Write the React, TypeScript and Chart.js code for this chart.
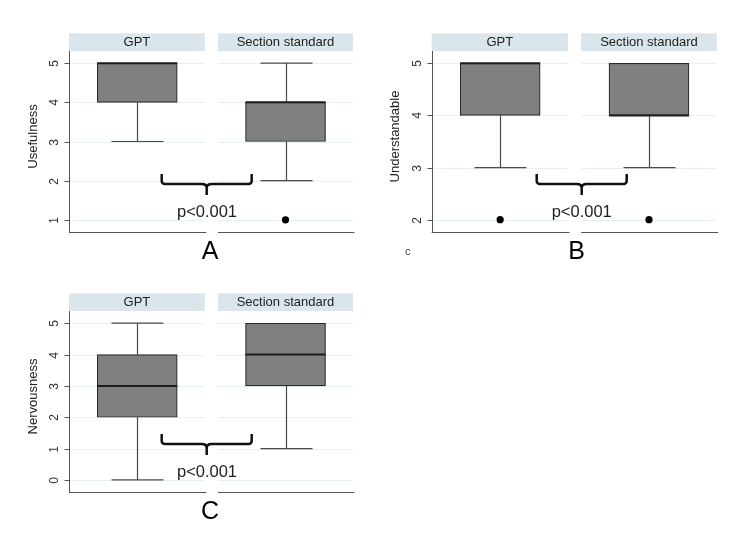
import React, { useEffect, useRef } from "react";
import { Chart, registerables } from "chart.js";

Chart.register(...registerables);

// ---------- data ----------
const groups = ["GPT", "Section standard"];
const pLabel = "p<0.001";

// Panel A – Usefulness
const usefulnessQ1 = [4, 3];
const usefulnessMedian = [5, 4];
const usefulnessQ3 = [5, 4];
const usefulnessLow = [3, 2];
const usefulnessHigh = [5, 5];
const usefulnessOutliers = [[], [1]];
const usefulnessTicks = [1, 2, 3, 4, 5];

// Panel B – Understandable
const understandableQ1 = [4, 4];
const understandableMedian = [5, 4];
const understandableQ3 = [5, 5];
const understandableLow = [3, 3];
const understandableHigh = [5, 5];
const understandableOutliers = [[2], [2]];
const understandableTicks = [2, 3, 4, 5];

// Panel C – Nervousness
const nervousnessQ1 = [2, 3];
const nervousnessMedian = [3, 4];
const nervousnessQ3 = [4, 5];
const nervousnessLow = [0, 1];
const nervousnessHigh = [5, 5];
const nervousnessOutliers = [[], []];
const nervousnessTicks = [0, 1, 2, 3, 4, 5];

// ---------- layout / style ----------
const FONT = '"Liberation Sans", Arial, Helvetica, sans-serif';
const X_MIN = -0.46;
const X_MAX = 1.455;
const FACET_HALF = 0.456;
const STRIP_COLOR = "#dbe5ec";
const GRID_COLOR = "#e7eff1";
const AXIS_COLOR = "#555555";
const BOX_FILL = "#808080";
const BOX_EDGE = "#2a2a2a";
const WHISKER = "#4a4a4a";

const panels = [
  {
    key: "A",
    label: "Usefulness",
    letter: "A",
    q1: usefulnessQ1, median: usefulnessMedian, q3: usefulnessQ3,
    low: usefulnessLow, high: usefulnessHigh, outliers: usefulnessOutliers,
    ticks: usefulnessTicks, yMin: 0.69, yMax: 5.31,
    left: 0, top: 0, w: 375, h: 275,
    pad: { left: 69, right: 22, top: 51, bottom: 43 },
    braceX: 137.7, pX: 138, letterX: 141, extra: null,
  },
  {
    key: "B",
    label: "Understandable",
    letter: "B",
    q1: understandableQ1, median: understandableMedian, q3: understandableQ3,
    low: understandableLow, high: understandableHigh, outliers: understandableOutliers,
    ticks: understandableTicks, yMin: 1.764, yMax: 5.236,
    left: 375, top: 0, w: 375, h: 275,
    pad: { left: 56.7, right: 33.3, top: 51, bottom: 43 },
    braceX: 150, pX: 150, letterX: 145, extra: "c",
  },
  {
    key: "C",
    label: "Nervousness",
    letter: "C",
    q1: nervousnessQ1, median: nervousnessMedian, q3: nervousnessQ3,
    low: nervousnessLow, high: nervousnessHigh, outliers: nervousnessOutliers,
    ticks: nervousnessTicks, yMin: -0.385, yMax: 5.39,
    left: 0, top: 275, w: 375, h: 276,
    pad: { left: 69, right: 22, top: 36, bottom: 59 },
    braceX: 137.7, pX: 138, letterX: 141, extra: null,
  },
];

function makePlugin(p: any) {
  const facetsPx = (x: any) => [
    [x.getPixelForValue(X_MIN), x.getPixelForValue(FACET_HALF)],
    [x.getPixelForValue(1 - FACET_HALF), x.getPixelForValue(X_MAX)],
  ];
  return {
    id: "facets" + p.key,
    beforeDraw(chart: any) {
      const { ctx, chartArea, scales } = chart;
      const { left, top, bottom } = chartArea;
      const x = scales.x;
      const y = scales.y;
      const facets = facetsPx(x);
      ctx.save();
      ctx.fillStyle = "#ffffff";
      ctx.fillRect(0, 0, chart.width, chart.height);

      // strips
      facets.forEach((f: number[], i: number) => {
        ctx.fillStyle = STRIP_COLOR;
        ctx.fillRect(f[0], top - 17.7, f[1] - f[0], 17.7);
        ctx.fillStyle = "#222222";
        ctx.font = `13px ${FONT}`;
        ctx.textAlign = "center";
        ctx.textBaseline = "middle";
        ctx.fillText(groups[i], (f[0] + f[1]) / 2, top - 8.6);
      });

      // gridlines per facet
      ctx.strokeStyle = GRID_COLOR;
      ctx.lineWidth = 1;
      p.ticks.forEach((t: number) => {
        const py = Math.round(y.getPixelForValue(t)) + 0.5;
        facets.forEach((f: number[]) => {
          ctx.beginPath();
          ctx.moveTo(f[0], py);
          ctx.lineTo(f[1], py);
          ctx.stroke();
        });
      });

      // axes
      ctx.strokeStyle = AXIS_COLOR;
      ctx.lineWidth = 1;
      const ax = Math.round(left) + 0.5;
      ctx.beginPath();
      ctx.moveTo(ax, top);
      ctx.lineTo(ax, bottom);
      ctx.stroke();
      const by = Math.round(bottom) + 0.5;
      facets.forEach((f: number[]) => {
        ctx.beginPath();
        ctx.moveTo(f[0], by);
        ctx.lineTo(f[1] + 1.5, by);
        ctx.stroke();
      });

      // ticks + labels
      ctx.fillStyle = "#333333";
      ctx.font = `12px ${FONT}`;
      ctx.textAlign = "center";
      ctx.textBaseline = "middle";
      p.ticks.forEach((t: number) => {
        const py = Math.round(y.getPixelForValue(t)) + 0.5;
        ctx.beginPath();
        ctx.moveTo(ax - 5, py);
        ctx.lineTo(ax, py);
        ctx.stroke();
        ctx.save();
        ctx.translate(left - 14.5, py);
        ctx.rotate(-Math.PI / 2);
        ctx.fillText(String(t), 0, 0);
        ctx.restore();
      });

      // y label
      ctx.save();
      ctx.fillStyle = "#222222";
      ctx.font = `13px ${FONT}`;
      ctx.translate(left - 36, (top + bottom) / 2 - 5);
      ctx.rotate(-Math.PI / 2);
      ctx.fillText(p.label, 0, 0);
      ctx.restore();
      ctx.restore();
    },
    beforeDatasetsDraw(chart: any) {
      const { ctx, scales } = chart;
      const x = scales.x;
      const y = scales.y;
      ctx.save();
      ctx.strokeStyle = WHISKER;
      ctx.lineWidth = 1.2;
      groups.forEach((_, i) => {
        const cx = Math.round(x.getPixelForValue(i)) + 0.5;
        const seg = (a: number, b: number) => {
          if (a === b) return;
          const ya = y.getPixelForValue(a);
          const yb = y.getPixelForValue(b);
          ctx.beginPath();
          ctx.moveTo(cx, ya);
          ctx.lineTo(cx, yb);
          ctx.stroke();
          ctx.beginPath();
          ctx.moveTo(cx - 26, yb);
          ctx.lineTo(cx + 26, yb);
          ctx.stroke();
        };
        seg(p.q3[i], p.high[i]);
        seg(p.q1[i], p.low[i]);
      });
      ctx.restore();
    },
    afterDatasetsDraw(chart: any) {
      const { ctx, chartArea, scales } = chart;
      const { left, bottom } = chartArea;
      const x = scales.x;
      const y = scales.y;
      const meta = chart.getDatasetMeta(0);
      ctx.save();
      // medians
      ctx.strokeStyle = "#1e1e1e";
      ctx.lineWidth = 2;
      groups.forEach((_, i) => {
        const el = meta.data[i];
        const hw = el.width / 2;
        const cx = x.getPixelForValue(i);
        const py = y.getPixelForValue(p.median[i]);
        ctx.beginPath();
        ctx.moveTo(cx - hw, py);
        ctx.lineTo(cx + hw, py);
        ctx.stroke();
      });

      // brace
      const cx = left + p.braceX;
      const half = 45;
      const yTop = bottom - 58;
      const yMid = bottom - 48;
      const yTip = bottom - 37;
      ctx.strokeStyle = "#111111";
      ctx.lineWidth = 2.5;
      ctx.lineJoin = "round";
      ctx.lineCap = "butt";
      ctx.beginPath();
      ctx.moveTo(cx - half, yTop);
      ctx.arcTo(cx - half, yMid, cx - half + 8, yMid, 3);
      ctx.lineTo(cx - 5, yMid);
      ctx.quadraticCurveTo(cx, yMid, cx, yMid + 4);
      ctx.lineTo(cx, yTip);
      ctx.moveTo(cx, yMid + 4);
      ctx.quadraticCurveTo(cx, yMid, cx + 5, yMid);
      ctx.lineTo(cx + half - 8, yMid);
      ctx.arcTo(cx + half, yMid, cx + half, yTop, 3);
      ctx.lineTo(cx + half, yTop);
      ctx.stroke();

      // p-value
      ctx.fillStyle = "#222222";
      ctx.font = `16.5px ${FONT}`;
      ctx.textAlign = "center";
      ctx.textBaseline = "middle";
      ctx.fillText(pLabel, left + p.pX, bottom - 19.5);

      // panel letter
      ctx.fillStyle = "#000000";
      ctx.font = `25px ${FONT}`;
      ctx.fillText(p.letter, left + p.letterX, bottom + 20);

      if (p.extra) {
        ctx.fillStyle = "#444444";
        ctx.font = `11px ${FONT}`;
        ctx.fillText(p.extra, left - 24, bottom + 20);
      }
      ctx.restore();
    },
  };
}

function Panel({ p }: { p: any }) {
  const ref = useRef<HTMLCanvasElement | null>(null);
  useEffect(() => {
    if (!ref.current) return;
    const boxData = p.q1.map((v: number, i: number) => ({ x: i, y: [v, p.q3[i]] }));
    const outlierData: any[] = [];
    p.outliers.forEach((arr: number[], i: number) =>
      arr.forEach((v) => outlierData.push({ x: i, y: v }))
    );
    const chart = new Chart(ref.current, {
      type: "bar",
      data: {
        datasets: [
          {
            type: "bar",
            data: boxData as any,
            backgroundColor: BOX_FILL,
            borderColor: BOX_EDGE,
            borderWidth: 1.2,
            borderSkipped: false,
            barThickness: 80,
          } as any,
          {
            type: "scatter",
            data: outlierData,
            pointRadius: 3.6,
            pointBackgroundColor: "#000000",
            pointBorderColor: "#000000",
            pointBorderWidth: 0,
          } as any,
        ],
      },
      options: {
        responsive: false,
        animation: false,
        layout: { padding: p.pad },
        plugins: { legend: { display: false }, tooltip: { enabled: false } },
        scales: {
          x: { type: "linear", min: X_MIN, max: X_MAX, offset: false, display: false },
          y: { type: "linear", min: p.yMin, max: p.yMax, display: false },
        },
      } as any,
      plugins: [makePlugin(p)],
    });
    return () => chart.destroy();
  }, []);
  return (
    <canvas
      ref={ref}
      width={p.w}
      height={p.h}
      style={{ position: "absolute", left: p.left, top: p.top, width: p.w, height: p.h }}
    />
  );
}

export default function App() {
  return (
    <div style={{ position: "absolute", left: 0, top: 0, width: 750, height: 551, background: "#ffffff" }}>
      {panels.map((p) => (
        <Panel key={p.key} p={p} />
      ))}
    </div>
  );
}
